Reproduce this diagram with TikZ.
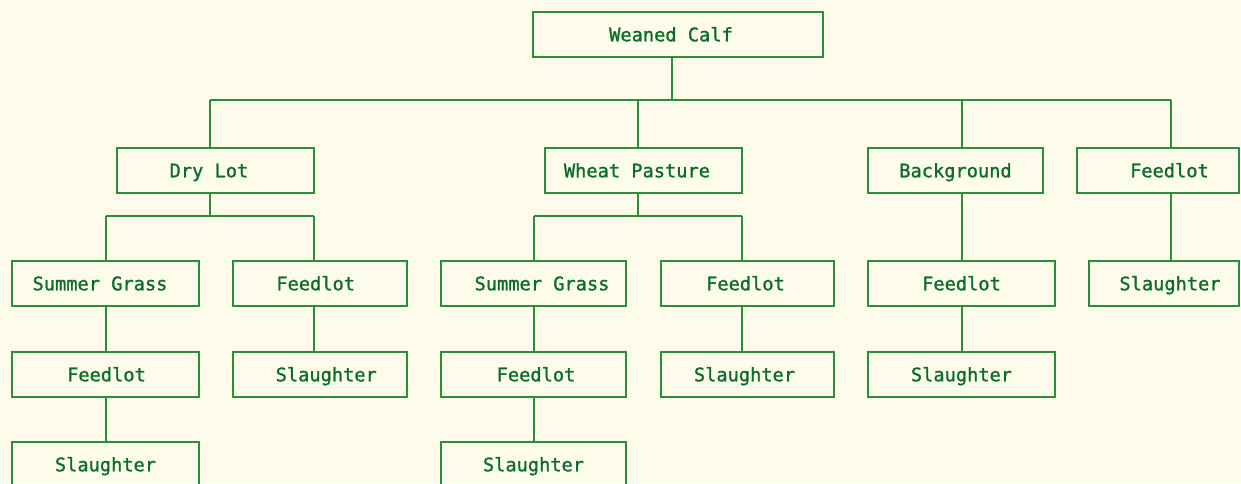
\documentclass[tikz,border=0pt]{standalone}
\usepackage{fontspec}
\setmonofont[FakeBold=1.2]{DejaVu Sans Mono}
\usepackage{tikz}

\definecolor{paper}{RGB}{253,251,234}
\definecolor{rule}{RGB}{40,145,55}
\definecolor{ink}{RGB}{10,110,40}

\tikzset{
  box/.style={draw=rule, line width=1.3pt, minimum height=33.75pt, inner sep=0pt},
  lbl/.style={text=ink, inner sep=0pt, text height=10.2pt, text depth=0pt,
    font=\ttfamily\fontsize{14}{16}\selectfont},
  conn/.style={draw=rule, line width=1.3pt}
}

\begin{document}
\begin{tikzpicture}[x=0.75pt,y=0.75pt,yscale=-1,xscale=1]
\useasboundingbox (0,0) rectangle (1241,483);
\fill [paper] (0,0) rectangle (1241,483);
\clip (0,0) rectangle (1241,483);

% Text Node
\node [box, minimum width=217.5pt, label={[lbl,xshift=-5.25pt]center:Weaned Calf}] (calf) at (678,34.5) {};
% Text Node
\node [box, minimum width=147.75pt, label={[lbl,xshift=-4.9pt]center:Dry Lot}] (drylot) at (215.5,170.5) {};
\node [box, minimum width=147.75pt, label={[lbl,xshift=-4.9pt]center:Wheat Pasture}] (wheat) at (643.5,170.5) {};
\node [box, minimum width=131.25pt, label={[lbl]center:Background}] (backgr) at (955.5,170.5) {};
\node [box, minimum width=121.5pt, label={[lbl,xshift=8.6pt]center:Feedlot}] (feedA) at (1158,170.5) {};
% Text Node
\node [box, minimum width=140.25pt, label={[lbl,xshift=-4.1pt]center:Summer Grass}] (grassA) at (105.5,283.5) {};
\node [box, minimum width=130.5pt, label={[lbl,xshift=-3.2pt]center:Feedlot}] (feedB) at (320,283.5) {};
\node [box, minimum width=138.75pt, label={[lbl,xshift=6.4pt]center:Summer Grass}] (grassB) at (533.5,283.5) {};
\node [box, minimum width=129.75pt, label={[lbl,xshift=-1.5pt]center:Feedlot}] (feedC) at (747.5,283.5) {};
\node [box, minimum width=140.25pt, label={[lbl]center:Feedlot}] (feedD) at (961.5,283.5) {};
\node [box, minimum width=112.5pt, label={[lbl,xshift=4.5pt]center:Slaughter}] (slaughtA) at (1164,283.5) {};
% Text Node
\node [box, minimum width=140.25pt, label={[lbl,xshift=0.75pt]center:Feedlot}] (feedE) at (105.5,374.5) {};
\node [box, minimum width=130.5pt, label={[lbl,xshift=4.7pt]center:Slaughter}] (slaughtB) at (320,374.5) {};
\node [box, minimum width=138.75pt, label={[lbl,xshift=1.9pt]center:Feedlot}] (feedF) at (533.5,374.5) {};
\node [box, minimum width=129.75pt, label={[lbl,xshift=-2.25pt]center:Slaughter}] (slaughtC) at (747.5,374.5) {};
\node [box, minimum width=140.25pt, label={[lbl]center:Slaughter}] (slaughtD) at (961.5,374.5) {};
% Text Node
\node [box, minimum width=140.25pt, label={[lbl]center:Slaughter}] (slaughtE) at (105.5,464.5) {};
\node [box, minimum width=138.75pt, label={[lbl]center:Slaughter}] (slaughtF) at (533.5,464.5) {};

%Straight Lines
\coordinate (jCalf) at (672,100);
\coordinate (jDry) at (210,100);
\coordinate (jWheat) at (638,100);
\coordinate (jBack) at (962,100);
\coordinate (jFeed) at (1171,100);
\draw [conn] (calf.south -| jCalf) -- (jCalf);
\draw [conn] (jDry) -- (jFeed);
\foreach \n/\j in {drylot/jDry, wheat/jWheat, backgr/jBack, feedA/jFeed}
  \draw [conn] (\j) -- (\n.north -| \j);

%Straight Lines
\coordinate (dL) at (106,216);
\coordinate (dR) at (314,216);
\coordinate (wL) at (534,216);
\coordinate (wR) at (742,216);
\draw [conn] (drylot.south -| jDry) -- (jDry |- dL);
\draw [conn] (wheat.south -| jWheat) -- (jWheat |- wL);
\draw [conn] (dL) -- (dR);
\draw [conn] (wL) -- (wR);
\foreach \n/\j in {grassA/dL, feedB/dR, grassB/wL, feedC/wR}
  \draw [conn] (\j) -- (\n.north -| \j);

%Straight Lines
\draw [conn] (backgr.south -| jBack) -- (feedD.north -| jBack);
\draw [conn] (feedA.south -| jFeed) -- (slaughtA.north -| jFeed);
\draw [conn] (grassA.south -| dL) -- (feedE.north -| dL);
\draw [conn] (feedB.south -| dR) -- (slaughtB.north -| dR);
\draw [conn] (grassB.south -| wL) -- (feedF.north -| wL);
\draw [conn] (feedC.south -| wR) -- (slaughtC.north -| wR);
\draw [conn] (feedD.south -| jBack) -- (slaughtD.north -| jBack);
\draw [conn] (feedE.south -| dL) -- (slaughtE.north -| dL);
\draw [conn] (feedF.south -| wL) -- (slaughtF.north -| wL);

\end{tikzpicture}
\end{document}
